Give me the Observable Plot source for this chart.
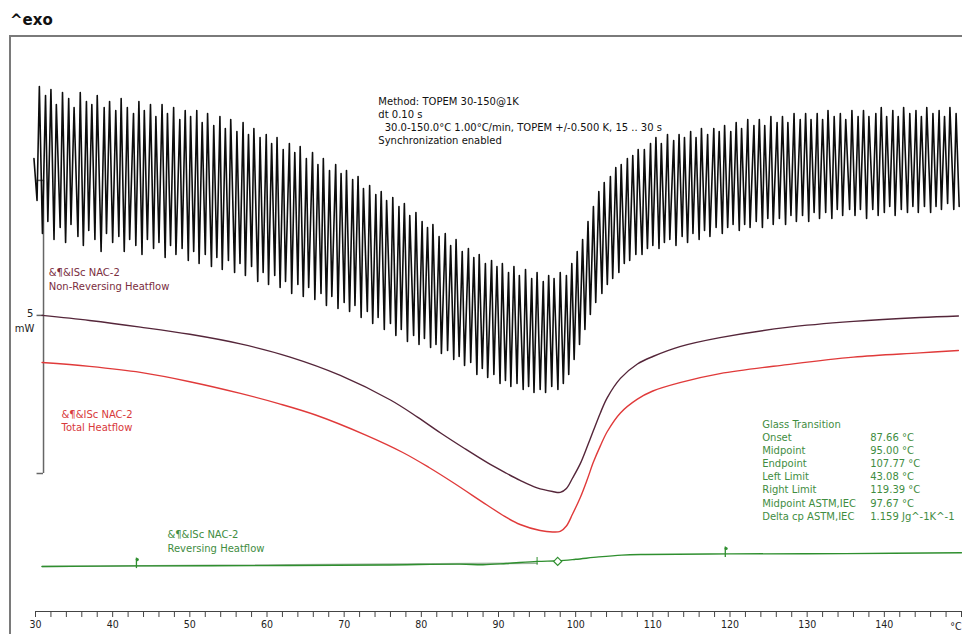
<!DOCTYPE html>
<html><head><meta charset="utf-8">
<script src="https://cdn.jsdelivr.net/npm/d3@7"></script>
<script src="https://cdn.jsdelivr.net/npm/@observablehq/plot@0.6"></script>
<style>
html,body{margin:0;padding:0;background:#fff;}
body{width:962px;height:634px;overflow:hidden;position:relative;}
#title{position:absolute;left:10px;top:13px;font:bold 15px/15px "DejaVu Sans",sans-serif;color:#111;}
#frame{position:absolute;left:9px;top:35px;width:980px;height:640px;border-left:2px solid #7a7a7a;border-top:2px solid #7a7a7a;}
#chart{position:absolute;left:0;top:0;}
</style></head>
<body>
<div id="title">^exo</div>
<div id="frame"></div>
<div id="chart"></div>
<script>
// ---------- DATA (temperature °C, heat flow mW relative) ----------
// TOPEM raw signal: temperatures and values of successive extrema
const oscT = [
 29.8,30.2,30.5,30.9,31.3,31.6,32.0,32.4,32.7,33.2,33.5,33.9,34.3,34.6,35.0,35.5,35.8,36.2,36.6,36.9,37.3,37.7,38.0,38.5,38.9,39.2,39.6,
 40.0,40.4,40.8,41.1,41.5,41.9,42.2,42.7,43.0,43.4,43.8,44.1,44.5,44.9,45.3,45.6,46.0,46.4,46.8,47.1,47.5,47.9,48.2,48.7,49.0,49.4,49.8,
 50.1,50.5,50.9,51.2,51.6,52.0,52.3,52.8,53.1,53.5,53.9,54.2,54.6,55.0,55.3,55.8,56.1,56.5,56.9,57.2,57.6,58.0,58.3,58.8,59.1,59.5,59.9,
 60.2,60.6,61.0,61.3,61.7,62.1,62.4,62.9,63.2,63.6,64.0,64.3,64.7,65.1,65.4,65.9,66.2,66.6,67.0,67.3,67.7,68.1,68.4,68.9,69.2,69.6,70.0,
 70.3,70.7,71.1,71.4,71.8,72.2,72.5,73.0,73.3,73.7,74.1,74.4,74.8,75.2,75.5,76.0,76.3,76.7,77.1,77.4,77.8,78.2,78.5,79.0,79.3,79.7,80.1,
 80.4,80.8,81.2,81.5,81.9,82.3,82.6,83.1,83.4,83.8,84.2,84.5,84.9,85.3,85.6,86.1,86.4,86.8,87.2,87.5,87.9,88.3,88.6,89.1,89.4,89.8,90.2,
 90.5,90.9,91.3,91.6,92.0,92.4,92.7,93.2,93.5,93.9,94.3,94.6,95.0,95.4,95.8,96.1,96.5,96.9,97.2,97.7,98.0,98.4,98.8,99.1,99.5,99.8,
 100.2,100.5,100.9,101.2,101.6,101.9,102.3,102.6,103.0,103.4,103.7,104.1,104.5,104.8,105.2,105.6,105.9,106.3,106.7,107.0,107.4,107.8,108.1,108.6,108.9,109.3,109.7,
 110.0,110.4,110.8,111.1,111.5,111.9,112.2,112.7,113.0,113.4,113.8,114.1,114.5,114.9,115.2,115.6,116.0,116.3,116.7,117.1,117.4,117.9,118.2,118.6,119.0,119.3,119.7,
 120.1,120.4,120.8,121.2,121.5,121.9,122.3,122.6,123.1,123.4,123.8,124.2,124.5,124.9,125.3,125.6,126.1,126.4,126.8,127.2,127.5,127.9,128.3,128.6,129.1,129.4,129.8,
 130.2,130.5,130.9,131.3,131.6,132.0,132.4,132.7,133.2,133.5,133.9,134.3,134.6,135.0,135.5,135.8,136.2,136.6,136.9,137.3,137.7,138.0,138.5,138.9,139.2,139.6,140.0,
 140.3,140.7,141.1,141.4,141.8,142.2,142.5,143.0,143.3,143.7,144.1,144.4,144.8,145.2,145.5,146.0,146.3,146.7,147.1,147.4,147.8,148.2,148.5,149.0,149.3,149.7
];
const oscV = [
 15.1,13.7,17.5,12.6,17.2,13.0,17.4,12.4,16.9,12.8,17.3,12.3,17.1,12.9,16.8,12.5,17.3,12.2,17.0,12.7,16.9,12.4,17.2,12.0,16.8,12.6,17.0,
 12.3,16.7,12.5,17.1,12.0,16.8,12.4,16.6,12.2,17.0,11.9,16.7,12.4,16.9,12.1,16.5,12.3,16.9,11.8,16.6,12.2,16.8,11.9,16.4,12.1,16.7,11.7,
 16.5,12.0,16.7,11.6,16.3,11.9,16.6,11.5,16.2,11.8,16.5,11.4,16.1,11.7,16.4,11.3,16.0,11.6,16.3,11.2,15.9,11.5,16.1,11.0,15.8,11.3,15.9,
 10.9,15.6,11.2,15.8,10.8,15.4,11.0,15.6,10.6,15.3,10.9,15.5,10.5,15.1,10.8,15.3,10.4,14.9,10.6,15.1,10.2,14.7,10.5,14.9,10.1,14.6,10.3,
 14.7,10.0,14.4,10.2,14.5,9.8,14.1,10.0,14.2,9.6,13.9,9.8,14.0,9.4,13.7,9.6,13.8,9.2,13.5,9.4,13.6,9.0,13.2,9.2,13.3,8.9,13.0,
 9.1,12.8,8.8,12.9,8.9,12.5,8.6,12.6,8.7,12.2,8.4,12.4,8.5,12.0,8.2,12.1,8.3,11.8,7.9,11.9,8.1,11.6,7.8,11.7,7.9,11.5,7.6,
 11.6,7.7,11.3,7.5,11.5,7.6,11.2,7.4,11.4,7.5,11.1,7.3,11.3,7.4,11.0,7.3,11.2,7.5,11.1,7.4,11.3,7.6,11.2,7.9,11.6,8.4,
 12.0,8.9,12.4,9.4,13.0,9.9,13.5,10.3,14.0,10.6,14.3,10.9,14.5,11.1,14.8,11.3,14.9,11.6,15.1,11.7,15.2,11.9,15.4,11.9,15.4,12.1,15.6,
 12.2,15.8,12.1,15.6,12.3,15.9,12.4,15.7,12.2,15.9,12.5,15.8,12.3,16.0,12.6,15.8,12.4,16.1,12.7,15.9,12.5,16.1,12.8,16.0,12.6,16.2,12.8,
 16.0,12.9,16.3,12.7,16.1,12.9,16.4,12.8,16.2,13.0,16.4,12.8,16.2,13.1,16.5,12.9,16.3,13.1,16.5,12.9,16.3,13.2,16.6,13.0,16.4,13.2,16.6,
 13.0,16.4,13.3,16.6,13.1,16.4,13.3,16.7,13.1,16.5,13.4,16.6,13.2,16.4,13.4,16.7,13.2,16.5,13.4,16.7,13.1,16.5,13.4,16.6,13.2,16.8,13.3,
 16.5,13.5,16.7,13.2,16.5,13.4,16.8,13.3,16.6,13.5,16.7,13.3,16.5,13.5,16.8,13.3,16.6,13.5,16.7,13.4,16.5,13.6,16.8,13.4,16.6,13.5
];

// Non-Reversing Heatflow
const nonRevT = [30.85,37,43.6,50,56.55,63,69.5,76,79.5,82.5,85.5,88.5,90.8,92.8,95,97,98,98.8,99.6,100.6,101.5,102.3,103.2,104.1,105.8,108,110,113.5,118.7,127.4,136,144.6,149.6];
const nonRevV = [9.87,9.70,9.48,9.24,8.92,8.48,7.87,7.05,6.48,5.95,5.45,4.97,4.64,4.37,4.12,4.00,3.97,4.10,4.45,4.93,5.50,6.03,6.62,7.13,7.77,8.25,8.50,8.83,9.13,9.47,9.67,9.80,9.85];

// Total Heatflow
const totalT = [30.85,37,43.6,50,56.55,61.5,66.3,72.8,77.6,81,84.1,88.5,90.8,92.8,95.4,97,98,98.8,99.6,100.6,101.5,102.3,103.2,104.1,105.8,108,110,113.5,118.7,127.4,136,144.6,149.6];
const totalV = [8.30,8.17,7.97,7.66,7.27,6.93,6.55,5.88,5.30,4.80,4.30,3.55,3.17,2.90,2.70,2.65,2.67,2.85,3.25,3.80,4.40,4.98,5.52,6.00,6.62,7.08,7.35,7.63,7.93,8.23,8.48,8.62,8.70];

// Reversing Heatflow
const revT = [30.85,43,60,75,85,88,91,95,97.7,100,103,106,109,120,135,150];
const revV = [1.50,1.52,1.53,1.55,1.58,1.56,1.60,1.67,1.69,1.74,1.82,1.88,1.90,1.92,1.93,1.96];
// evaluation baseline (left)
const baseLeftT = [30.85,95], baseLeftV = [1.50,1.61];

// Glass transition evaluation
const gtLabels = ["Glass Transition","Onset","Midpoint","Endpoint","Left Limit","Right Limit","Midpoint ASTM,IEC","Delta cp ASTM,IEC"];
const gtValues = ["","87.66 °C","95.00 °C","107.77 °C","43.08 °C","119.39 °C","97.67 °C","1.159 Jg^-1K^-1"];
const leftLimit = 43.08, rightLimit = 119.39, midpoint = 95.00, midpointASTM = 97.67;
const leftLimitV = 1.53, rightLimitV = 1.90, midpointV = 1.67, midpointASTMV = 1.67;

const methodLines = ["Method: TOPEM 30-150@1K","dt 0.10 s","\u00a0\u00a030.0-150.0°C 1.00°C/min, TOPEM +/-0.500 K, 15 .. 30 s","Synchronization enabled"];
const sampleName = "&¶&ISc NAC-2";
const seriesNames = ["Non-Reversing Heatflow","Total Heatflow","Reversing Heatflow"];
const xTickValues = [30,32,34,36,38,40,42,44,46,48,50,52,54,56,58,60,62,64,66,68,70,72,74,76,78,80,82,84,86,88,90,92,94,96,98,100,102,104,106,108,110,112,114,116,118,120,122,124,126,128,130,132,134,136,138,140,142,144,146,148,150];
const xTickLabels = {30:"30",40:"40",50:"50",60:"60",70:"70",80:"80",90:"90",100:"100",110:"110",120:"120",130:"130",140:"140"};
const xUnit = "°C";
const scaleLabel = ["5","mW"];

// ---------- BUILD ----------
const zip = (T, V) => T.map((t, i) => ({T: t, v: V[i]}));
const osc = zip(oscT, oscV);
const nonRev = zip(nonRevT, nonRevV);
const total = zip(totalT, totalV);
const rev = zip(revT, revV);

const cMaroon = "#55263a", tMaroon = "#7a2e3e";
const cRed = "#e03a3a", tRed = "#d8393b";
const cGreen = "#2f8f2f", tGreen = "#3f8d3f";
const font = "'DejaVu Sans', Verdana, sans-serif";
const axisFont = "'DejaVu Sans Condensed', 'Liberation Sans Narrow', 'DejaVu Sans', sans-serif";

const chart = Plot.plot({
  width: 962, height: 634,
  marginTop: 36, marginBottom: 23, marginLeft: 35, marginRight: 1,
  x: {domain: [30, 150], axis: null},
  y: {domain: [0, 19.1667], axis: null},
  style: {fontFamily: font, background: "transparent", color: "#222"},
  marks: [
    // x axis
    Plot.ruleY([0], {stroke: "#444", strokeWidth: 1}),
    Plot.axisX(xTickValues, {anchor: "bottom", label: null, tickSize: 6, tickPadding: 3, stroke: "#444",
      tickFormat: d => xTickLabels[d] ?? "", fontSize: 10.5, fontFamily: axisFont}),
    Plot.text([xUnit], {x: 150, y: 0, dy: 15, textAnchor: "end", fontSize: 10.5, fontFamily: axisFont, fill: "#222"}),
    // scale bar
    Plot.ruleX([31.04], {y1: 4.6, y2: 14.37, stroke: "#666", strokeWidth: 1.5}),
    Plot.ruleY([14.37, 9.87, 4.6], {x1: 30.2, x2: 31.04, stroke: "#666", strokeWidth: 1.5}),
    Plot.text([scaleLabel[0]], {x: 29.74, y: 9.93, textAnchor: "end", fontSize: 10, fill: "#222"}),
    Plot.text([scaleLabel[1]], {x: 29.87, y: 9.43, textAnchor: "end", fontSize: 10, fill: "#222"}),
    // baseline
    Plot.line(zip(baseLeftT, baseLeftV), {x: "T", y: "v", stroke: "#9db59d", strokeWidth: 1.6}),
    // curves
    Plot.line(rev, {x: "T", y: "v", stroke: cGreen, strokeWidth: 1.4, curve: "catmull-rom"}),
    Plot.line(total, {x: "T", y: "v", stroke: cRed, strokeWidth: 1.4, curve: "catmull-rom"}),
    Plot.line(nonRev, {x: "T", y: "v", stroke: cMaroon, strokeWidth: 1.4, curve: "catmull-rom"}),
    Plot.line(osc, {x: "T", y: "v", stroke: "#0d0d0d", strokeWidth: 1.6}),
    // glass transition markers
    Plot.ruleX([leftLimit], {y1: leftLimitV - 0.1, y2: leftLimitV + 0.25, stroke: cGreen, strokeWidth: 1.3}),
    Plot.ruleX([rightLimit], {y1: rightLimitV - 0.1, y2: rightLimitV + 0.25, stroke: cGreen, strokeWidth: 1.3}),
    Plot.dot([{T: leftLimit, v: leftLimitV + 0.2}, {T: rightLimit, v: rightLimitV + 0.2}], {x: "T", y: "v", r: 1.6, fill: cGreen, dx: 0.8}),
    Plot.ruleX([midpoint], {y1: midpointV - 0.13, y2: midpointV + 0.13, stroke: cGreen, strokeWidth: 1}),
    Plot.dot([{T: midpointASTM, v: midpointASTMV}], {x: "T", y: "v", symbol: "diamond2", r: 3.6, stroke: cGreen, fill: "white", strokeWidth: 1.2}),
    // method text
    Plot.text([methodLines.join("\n")], {x: 74.43, y: 16.38, textAnchor: "start", lineAnchor: "middle", lineHeight: 1.31, fontSize: 10, fill: "#111"}),
    // series labels
    Plot.text([sampleName + "\n" + seriesNames[0]], {x: 31.72, y: 11.09, textAnchor: "start", lineAnchor: "middle", lineHeight: 1.33, fontSize: 10, fill: tMaroon}),
    Plot.text([sampleName + "\n" + seriesNames[1]], {x: 33.37, y: 6.38, textAnchor: "start", lineAnchor: "middle", lineHeight: 1.27, fontSize: 10, fill: tRed}),
    Plot.text([sampleName + "\n" + seriesNames[2]], {x: 47.10, y: 2.37, textAnchor: "start", lineAnchor: "middle", lineHeight: 1.37, fontSize: 10, fill: tGreen}),
    // table
    Plot.text([gtLabels.join("\n")], {x: 124.17, y: 4.73, textAnchor: "start", lineAnchor: "middle", lineHeight: 1.31, fontSize: 10, fill: tGreen}),
    Plot.text([gtValues.join("\n")], {x: 138.16, y: 4.73, textAnchor: "start", lineAnchor: "middle", lineHeight: 1.31, fontSize: 10, fill: tGreen})
  ]
});
document.getElementById("chart").appendChild(chart);
</script>
</body></html>
